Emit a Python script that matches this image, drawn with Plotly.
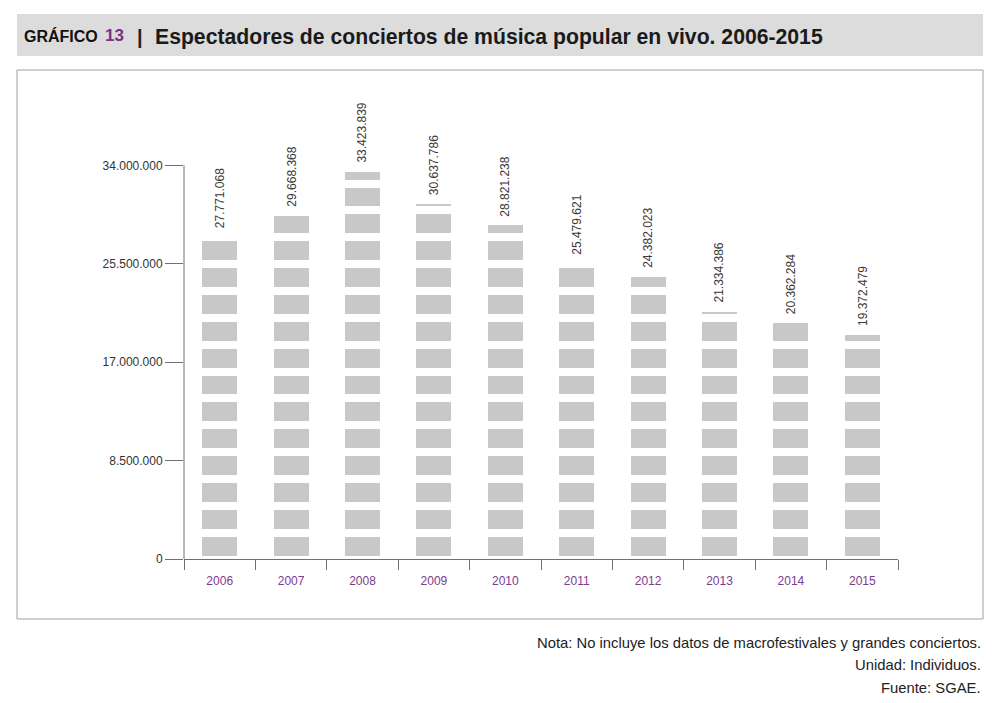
import numpy as np
import plotly.graph_objects as go

# ---------------- data ----------------
years = ["2006", "2007", "2008", "2009", "2010", "2011", "2012", "2013", "2014", "2015"]
spectators = [27771068, 29668368, 33423839, 30637786, 28821238,
              25479621, 24382023, 21334386, 20362284, 19372479]
y_tick_values = [0, 8500000, 17000000, 25500000, 34000000]
y_tick_labels = ["0", "8.500.000", "17.000.000", "25.500.000", "34.000.000"]
title_prefix = "GRÁFICO"
title_number = "13"
title_text = "Espectadores de conciertos de música popular en vivo. 2006-2015"
notes = ["Nota: No incluye los datos de macrofestivales y grandes conciertos.",
         "Unidad: Individuos.",
         "Fuente: SGAE."]

# ---------------- layout geometry ----------------
W, H = 1000, 703
ML, MR, MT, MB = 184, 102, 90, 144
PW, PH = W - ML - MR, H - MT - MB
PX_PER_UNIT = (559.3 - 165.7) / 34000000.0
Y_MAX = PH / PX_PER_UNIT


def px(x):
    return (x - ML) / PW


def py(y):
    return (H - MB - y) / PH


# pictogram-like segmented bars
SEG_UNIT = 2.32e6
SEG_OFFSET = 0.30e6
SEG_HEIGHT = 1.62e6
BAR_COLOR = "#c8c8c8"

vals = np.array(spectators, dtype=float)
n_seg = int(np.ceil(vals.max() / SEG_UNIT))

fig = go.Figure()
for k in range(n_seg):
    base = k * SEG_UNIT + SEG_OFFSET
    h = np.clip(vals - base, 0, SEG_HEIGHT)
    hs = [float(v) if v > 0 else None for v in h]
    fig.add_trace(go.Bar(
        x=years, y=hs, base=[base] * len(years),
        width=0.49, marker=dict(color=BAR_COLOR, line=dict(width=0)),
        hoverinfo="skip", showlegend=False,
    ))

annotations = []
for i, v in enumerate(spectators):
    annotations.append(dict(
        x=i, y=v, xref="x", yref="y", text=f"{v:,}".replace(",", "."),
        textangle=-90, showarrow=False, xanchor="center", yanchor="bottom",
        yshift=7, font=dict(family="Liberation Sans, Arial, sans-serif", size=12, color="#3a3a3a"),
    ))

# title
annotations += [
    dict(x=px(22), y=py(36), xref="paper", yref="paper", text=f"<b>{title_prefix}</b>",
         showarrow=False, xanchor="left", yanchor="middle",
         font=dict(family="Liberation Sans, Arial, sans-serif", size=16, color="#111111")),
    dict(x=px(103), y=py(36), xref="paper", yref="paper", text=f"<b>{title_number}</b>",
         showarrow=False, xanchor="left", yanchor="middle",
         font=dict(family="Liberation Sans, Arial, sans-serif", size=17, color="#7b2f86")),
    dict(x=px(135), y=py(37), xref="paper", yref="paper", text="<b>|</b>",
         showarrow=False, xanchor="left", yanchor="middle",
         font=dict(family="Liberation Sans, Arial, sans-serif", size=20, color="#222222")),
    dict(x=px(153), y=py(37), xref="paper", yref="paper", text=f"<b>{title_text}</b>",
         showarrow=False, xanchor="left", yanchor="middle",
         font=dict(family="Liberation Sans, Arial, sans-serif", size=21.2, color="#1a1a1a")),
]

# notes
for t, yc in zip(notes, [643, 665, 688]):
    annotations.append(dict(
        x=px(983), y=py(yc), xref="paper", yref="paper", text=t, showarrow=False,
        xanchor="right", yanchor="middle",
        font=dict(family="Liberation Sans, Arial, sans-serif", size=14.8, color="#222222"),
    ))

shapes = [
    dict(type="rect", xref="paper", yref="paper", x0=px(17), x1=px(983), y0=py(14), y1=py(56),
         fillcolor="#dcdcdc", line=dict(width=0), layer="below"),
    dict(type="rect", xref="paper", yref="paper", x0=px(17), x1=px(983), y0=py(70), y1=py(619),
         fillcolor="rgba(0,0,0,0)", line=dict(width=1, color="#a0a0a0"), layer="below"),
    dict(type="line", xref="paper", yref="y", x0=0, x1=0, y0=0, y1=max(y_tick_values),
         line=dict(width=1, color="#707070")),
]

fig.update_layout(
    width=W, height=H, margin=dict(l=ML, r=MR, t=MT, b=MB, pad=0),
    paper_bgcolor="white", plot_bgcolor="white",
    barmode="overlay", bargap=0,
    annotations=annotations, shapes=shapes,
    font=dict(family="Liberation Sans, Arial, sans-serif", size=12, color="#333333"),
    xaxis=dict(type="category", range=[-0.5, len(years) - 0.5], autorange=False,
               showline=True, linecolor="#707070", linewidth=1,
               ticks="outside", tickson="boundaries", ticklen=10, tickcolor="#707070",
               ticklabelstandoff=11,
               showgrid=False, zeroline=False,
               tickfont=dict(family="Liberation Sans, Arial, sans-serif", size=12, color="#7b3b8e"),
               fixedrange=True),
    yaxis=dict(range=[0, Y_MAX], autorange=False, showline=False, showgrid=False, zeroline=False,
               ticks="outside", ticklen=18, tickcolor="#707070",
               tickvals=y_tick_values, ticktext=y_tick_labels,
               tickfont=dict(family="Liberation Sans, Arial, sans-serif", size=12, color="#333333"),
               fixedrange=True),
)

fig.write_html("out.html", config={"displayModeBar": False})
